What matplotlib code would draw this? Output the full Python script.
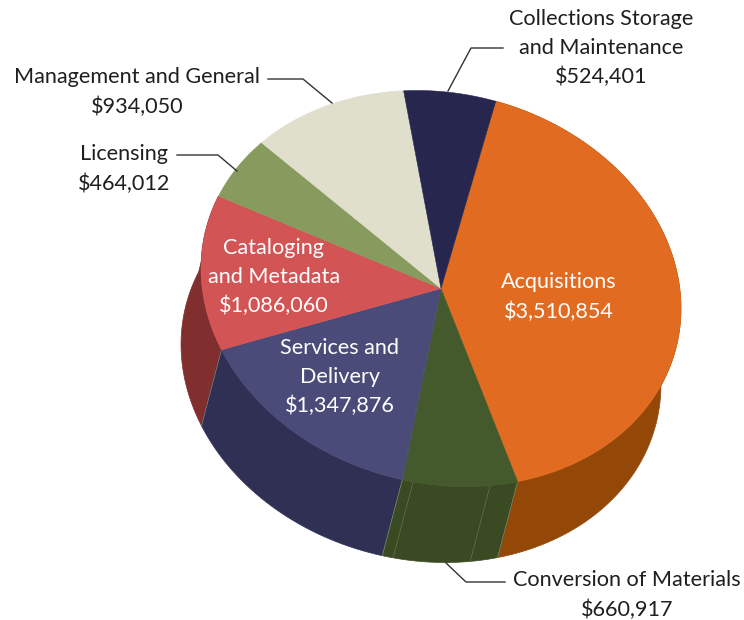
import numpy as np
import matplotlib
matplotlib.use("Agg")
import matplotlib.pyplot as plt
from matplotlib.patches import Polygon

# clockwise from the top
categories = ["Acquisitions", "Conversion of Materials", "Services and Delivery",
              "Cataloging and Metadata", "Licensing", "Management and General",
              "Collections Storage and Maintenance"]
values = [3510854, 660917, 1347876, 1086060, 464012, 934050, 524401]
top_colors = ["#E16C21", "#44592C", "#4B4B7A", "#D35454", "#889B5E", "#DFDFCC", "#26264F"]
wall_colors = ["#944808", "#3A4B23", "#303054", "#812E2E", "#889B5E", "#DFDFCC", "#26264F"]
seam_angles = [157, 175.5]

plt.rcParams["font.family"] = ["Lato", "DejaVu Sans"]

CX, CY = 441, 288.5
A, B = 242.4, 195
TILT = np.radians(13.8)
DX, DY = -20, 76
START = 2


def rim(t):
    # t in degrees clockwise from the top of the ellipse
    t = np.radians(t)
    u = A * np.sin(t)
    v = -B * np.cos(t)
    return (CX + u * np.cos(TILT) - v * np.sin(TILT),
            CY + u * np.sin(TILT) + v * np.cos(TILT))


fig = plt.figure(figsize=(7.44, 6.2), dpi=100)
ax = fig.add_axes([0, 0, 1, 1])
ax.set_xlim(0, 744)
ax.set_ylim(620, 0)
ax.axis("off")

edges = START + np.cumsum([0] + values) / sum(values) * 360

# walls first, the tops then hide whatever is behind them
for i in [3, 0, 2, 1]:
    x, y = rim(np.linspace(edges[i], edges[i + 1], 120))
    pts = np.r_[np.c_[x, y], np.c_[x + DX, y + DY][::-1]]
    ax.add_patch(Polygon(pts, closed=True, fc=wall_colors[i], ec=wall_colors[i], lw=0.5, zorder=1))

for t in list(edges[1:4]):
    x, y = rim(t)
    ax.plot([x, x + DX], [y, y + DY], color="#8E9A80", lw=0.4, zorder=2)
for t in seam_angles:
    x, y = rim(t)
    ax.plot([x, x + DX], [y, y + DY], color="#6E7F58", lw=0.4, zorder=2)

for i in range(len(values)):
    x, y = rim(np.linspace(edges[i], edges[i + 1], 120))
    pts = np.r_[[[CX, CY]], np.c_[x, y]]
    ax.add_patch(Polygon(pts, closed=True, fc=top_colors[i], ec=top_colors[i], lw=0.4, zorder=3))

# leader lines
leaders = [
    ([448, 471, 503], [91, 48, 48]),
    ([332, 303, 268], [103, 79, 79]),
    ([237, 218, 177], [171, 155, 155]),
    ([446, 466, 505], [563, 582, 582]),
]
for lx, ly in leaders:
    ax.plot(lx, ly, color="#333333", lw=1.0, zorder=4)

labels = [
    ("Collections Storage\nand Maintenance\n$524,401", 601, 48, "#1F1F1F"),
    ("Management and General\n$934,050", 137, 92, "#1F1F1F"),
    ("Licensing\n$464,012", 124, 169, "#1F1F1F"),
    ("Cataloging\nand Metadata\n$1,086,060", 274, 277, "white"),
    ("Acquisitions\n$3,510,854", 559, 297, "white"),
    ("Services and\nDelivery\n$1,347,876", 340, 377, "white"),
    ("Conversion of Materials\n$660,917", 627, 595, "#1F1F1F"),
]
for text, x, y, color in labels:
    ax.text(x, y, text, ha="center", va="center", color=color, fontsize=15.6,
            linespacing=1.55, zorder=5)

fig.savefig("out.png", dpi=100)
